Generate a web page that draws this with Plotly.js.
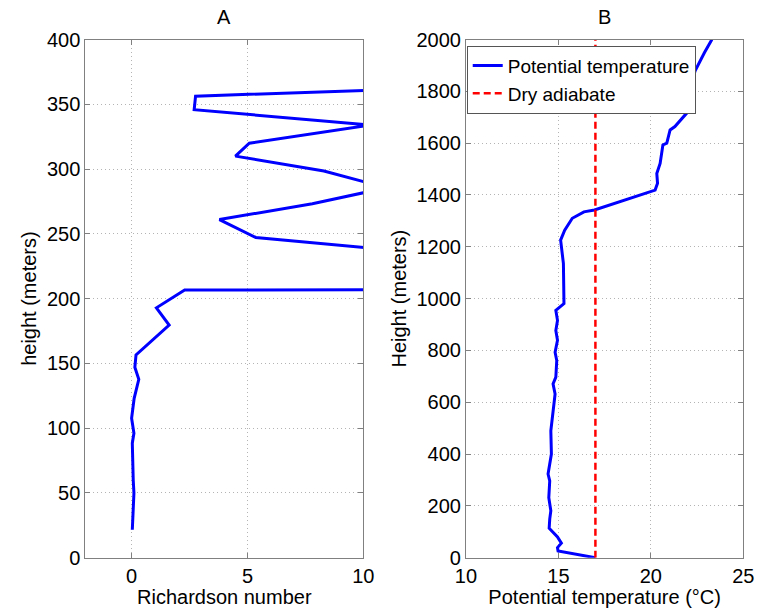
<!DOCTYPE html>
<html>
<head>
<meta charset="utf-8">
<script src="https://cdn.plot.ly/plotly-3.0.1.min.js"></script>
<style>html,body{margin:0;padding:0;background:#fff;}#chart{width:762px;height:608px;}</style>
</head>
<body>
<div id="chart"></div>
<script>
// Panel A: Richardson number profile
var riHeight = [21.6, 49.9, 60, 88.4, 96.1, 107.7, 123, 137.7, 147, 156.5, 179.6, 192.9, 206.6, 208.5, 235.3, 247.2, 261, 273.3, 285.5, 298.5, 310, 320, 334, 345.8, 356.3, 363];
var riValue  = [0.03, 0.10, 0.07, 0.03, 0.10, 0.0, 0.11, 0.31, 0.14, 0.19, 1.62, 1.07, 2.29, 60, 12.5, 5.36, 3.79, 7.8, 11, 8.3, 4.48, 5.08, 10.3, 2.7, 2.76, 14];

// Panel B: potential temperature profile
var thHeight = [0, 26, 39, 56, 80, 114, 149, 181, 232, 297, 323, 400, 490, 555, 632, 671, 697, 761, 793, 839, 877, 916, 955, 981, 1006, 1077, 1135, 1226, 1264, 1310, 1335, 1342, 1374, 1400, 1419, 1445, 1483, 1522, 1593, 1600, 1651, 1664, 1716, 1742, 1774, 1793, 1880, 1950, 2000];
var thValue  = [17.0, 14.98, 14.95, 15.16, 14.95, 14.5, 14.53, 14.59, 14.48, 14.53, 14.44, 14.62, 14.59, 14.71, 14.82, 14.71, 14.86, 14.91, 14.82, 14.95, 14.86, 14.95, 14.86, 15.3, 15.3, 15.3, 15.27, 15.12, 15.34, 15.75, 16.38, 16.95, 18.35, 19.42, 20.23, 20.36, 20.32, 20.5, 20.65, 20.86, 21.04, 21.3, 21.94, 22.1, 22.0, 22.0, 22.4, 22.9, 23.3];

// Dry adiabate
var adiabatTemp = [17, 17];
var adiabatHeight = [0, 2000];

var riTicks = [0, 5, 10];
var riYTicks = [0, 50, 100, 150, 200, 250, 300, 350, 400];
var thTicks = [10, 15, 20, 25];
var thYTicks = [0, 200, 400, 600, 800, 1000, 1200, 1400, 1600, 1800, 2000];

var FONT = 'Liberation Sans, Arial, Helvetica, sans-serif';
var FS = 20;

var traces = [
  {x: riValue, y: riHeight, xaxis: 'x', yaxis: 'y', mode: 'lines', type: 'scatter',
   line: {color: '#0000ff', width: 3}, showlegend: false, hoverinfo: 'skip'},
  {x: thValue, y: thHeight, xaxis: 'x2', yaxis: 'y2', mode: 'lines', type: 'scatter',
   name: 'Potential temperature', line: {color: '#0000ff', width: 3}},
  {x: adiabatTemp, y: adiabatHeight, xaxis: 'x2', yaxis: 'y2', mode: 'lines', type: 'scatter',
   name: 'Dry adiabate', line: {color: '#ff0000', width: 2.5, dash: '7px,4px'}}
];

function axisBase() {
  return {
    showline: true, linecolor: '#808080', linewidth: 1, mirror: 'ticks',
    ticks: 'inside', ticklen: 5, tickcolor: '#808080',
    showgrid: true, gridcolor: '#b4b4b4', griddash: '1px,3px', gridwidth: 1,
    zeroline: false, tickfont: {family: FONT, size: FS, color: '#000'},
    fixedrange: true
  };
}

var xa = Object.assign(axisBase(), {domain: [0.1119, 0.4768], range: [-2, 10], tickvals: riTicks, anchor: 'y',
  title: {text: 'Richardson number', font: {family: FONT, size: FS, color: '#000'}, standoff: 2}});
var ya = Object.assign(axisBase(), {domain: [0.0827, 0.935], range: [0, 400], tickvals: riYTicks, anchor: 'x',
  title: {text: 'height (meters)', font: {family: FONT, size: FS, color: '#000'}, standoff: 4}});
var xb = Object.assign(axisBase(), {domain: [0.6115, 0.9755], range: [10, 25], tickvals: thTicks, anchor: 'y2',
  title: {text: 'Potential temperature (°C)', font: {family: FONT, size: FS, color: '#000'}, standoff: 2}});
var yb = Object.assign(axisBase(), {domain: [0.0827, 0.935], range: [0, 2000], tickvals: thYTicks, anchor: 'x2',
  title: {text: 'Height (meters)', font: {family: FONT, size: FS, color: '#000'}, standoff: 4}});

var layout = {
  width: 762, height: 608,
  margin: {l: 0, r: 0, t: 0, b: 0},
  paper_bgcolor: '#fff', plot_bgcolor: '#fff',
  font: {family: FONT, size: FS, color: '#000'},
  xaxis: xa, yaxis: ya, xaxis2: xb, yaxis2: yb,
  showlegend: true,
  legend: {x: 0.6125, y: 0.925, xanchor: 'left', yanchor: 'top',
    bgcolor: '#fff', bordercolor: '#555', borderwidth: 1,
    font: {family: FONT, size: 19, color: '#000'}, tracegroupgap: 0, itemwidth: 30},
  annotations: [
    {text: 'A', xref: 'paper', yref: 'paper', x: (0.1119 + 0.4768) / 2, y: 0.972, showarrow: false,
     font: {family: FONT, size: FS, color: '#000'}, xanchor: 'center', yanchor: 'middle'},
    {text: 'B', xref: 'paper', yref: 'paper', x: (0.6115 + 0.9755) / 2, y: 0.972, showarrow: false,
     font: {family: FONT, size: FS, color: '#000'}, xanchor: 'center', yanchor: 'middle'}
  ]
};

Plotly.newPlot('chart', traces, layout, {displayModeBar: false, staticPlot: true});
</script>
</body>
</html>
